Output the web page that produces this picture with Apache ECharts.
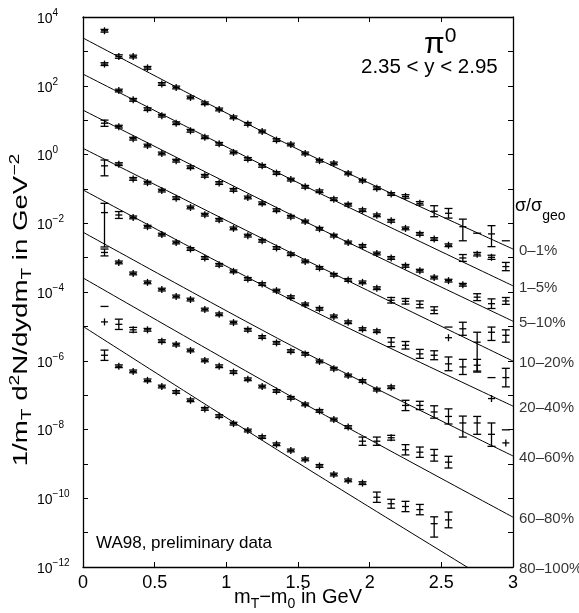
<!DOCTYPE html>
<html>
<head>
<meta charset="utf-8">
<script src="https://cdn.jsdelivr.net/npm/echarts@6/dist/echarts.min.js"></script>
<style>
    html, body { margin: 0; padding: 0; background: #fff; }
    #chart { width: 579px; height: 613px; }
</style>
</head>
<body>
<div id="chart"></div>
<script>
    // m_T - m_0 bin centres (GeV)
    const mt = [0.15, 0.25, 0.35, 0.45, 0.55, 0.65, 0.75, 0.85, 0.95, 1.05, 1.15, 1.25, 1.35, 1.45,
        1.55, 1.65, 1.75, 1.85, 1.95, 2.05, 2.15, 2.25, 2.35, 2.45, 2.55, 2.65, 2.75, 2.85, 2.95]

    // yields as log10 values, one array per centrality class
    const y0_1 = [3.60, 2.85, 2.85, 2.52, 2.05, 1.95, 1.66, 1.49, 1.31, 1.08, 0.89, 0.67, 0.42, 0.29,
        0.03, -0.18, -0.26, -0.55, -0.76, -0.98, -1.15, -1.22, -1.42, -1.65, -1.71, -2.10, null, -2.31, null]
    const y1_5 = [2.63, 1.86, 1.59, 1.32, 1.13, 0.91, 0.69, 0.50, 0.31, 0.06, -0.13, -0.33, -0.54, -0.73,
        -0.94, -1.07, -1.30, -1.46, -1.62, -1.77, -1.93, -2.15, -2.31, -2.46, -2.64, -3.01, -2.90, -2.99, -3.26]
    const y5_10 = [0.91, 0.81, 0.46, 0.26, 0.03, -0.18, -0.37, -0.62, -0.83, -1.03, -1.25, -1.42, -1.62, -1.81,
        -1.95, -2.16, -2.36, -2.56, -2.66, -2.88, -3.01, -3.24, -3.38, -3.58, -3.67, -3.79, -4.15, -4.34, -4.26]
    const y10_20 = [-0.33, -0.28, -0.71, -0.82, -1.05, -1.27, -1.54, -1.75, -1.90, -2.15, -2.36, -2.51, -2.72, -2.90,
        -3.11, -3.30, -3.50, -3.65, -3.72, -3.89, -4.24, -4.27, -4.36, -4.53, -5.33, -5.07, -5.46, -5.17, -5.26]
    const y20_40 = [-1.69, -1.76, -1.83, -2.10, -2.33, -2.56, -2.75, -3.01, -3.21, -3.40, -3.62, -3.77, -3.96, -4.15,
        -4.36, -4.49, -4.71, -4.88, -5.08, -5.14, -5.46, -5.55, -5.80, -5.84, -6.09, -6.18, -6.13, -7.10, -6.49]
    const y40_60 = [-2.85, -3.14, -3.46, -3.72, -3.93, -4.13, -4.22, -4.51, -4.65, -4.89, -5.10, -5.31, -5.48, -5.72,
        -5.80, -6.02, -6.23, -6.43, -6.59, -6.84, -6.77, -7.30, -7.30, -7.49, -7.62, -7.81, -7.81, -8.14, -8.39]
    const y60_80 = [-4.87, -4.94, -5.10, -5.10, -5.43, -5.53, -5.70, -5.99, -6.16, -6.33, -6.54, -6.75, -6.88, -7.08,
        -7.27, -7.46, -7.71, -7.93, -8.34, -8.34, -8.24, -8.59, -8.66, -8.75, -8.95, null, null, null, null]
    const y80_100 = [-5.84, -6.16, -6.31, -6.57, -6.75, -6.91, -7.15, -7.40, -7.61, -7.83, -8.03, -8.22, -8.43, -8.61,
        -8.87, -9.06, -9.31, -9.48, -9.56, -9.97, -10.16, -10.24, -10.33, -10.74, -10.63, null, null, null, null]

    // error bars in decades: number = symmetric, [down, up] otherwise, 0 = no bar
    const e0_1 = [0.04, 0.05, 0.04, 0.04, 0.04, 0.04, 0.04, 0.04, 0.04, 0.04, 0.04, 0.04, 0.04, 0.04,
        0.04, 0.04, 0.04, 0.04, 0.04, 0.04, 0.04, 0.05, 0.05, 0.16, 0.14, [0.41, 0.22], 0, [0.37, 0.24], 0]
    const e1_5 = [0.04, 0.04, 0.04, 0.04, 0.04, 0.04, 0.04, 0.04, 0.04, 0.04, 0.04, 0.04, 0.04, 0.04,
        0.04, 0.04, 0.04, 0.04, 0.04, 0.04, 0.04, 0.04, 0.04, 0.04, 0.04, 0.10, 0.05, 0.06, 0.12]
    const e5_10 = [0.09, 0.04, 0.04, 0.04, 0.04, 0.04, 0.04, 0.04, 0.04, 0.04, 0.04, 0.04, 0.04, 0.04,
        0.04, 0.04, 0.04, 0.04, 0.04, 0.04, 0.04, 0.04, 0.04, 0.04, 0.04, 0.04, 0.10, 0.14, 0.10]
    const e10_20 = [[0.29, 0.17], 0.04, 0.04, 0.04, 0.04, 0.04, 0.04, 0.04, 0.04, 0.04, 0.04, 0.04, 0.04, 0.04,
        0.04, 0.04, 0.04, 0.04, 0.04, 0.04, 0.08, 0.08, 0.10, 0.10, 0, 0.19, [0.87, 0.29], [0.24, 0.15], [0.20, 0.16]]
    const e20_40 = [[1.00, 0.27], 0.10, 0.04, 0.04, 0.04, 0.04, 0.04, 0.04, 0.04, 0.04, 0.04, 0.04, 0.04, 0.04,
        0.04, 0.04, 0.04, 0.04, 0.04, 0.04, 0.13, 0.11, 0.13, 0.13, 0.20, 0.22, 0.17, 0, 0.27]
    const e40_60 = [0.10, 0.04, 0.04, 0.04, 0.04, 0.04, 0.04, 0.04, 0.04, 0.04, 0.04, 0.04, 0.04, 0.04,
        0.04, 0.04, 0.04, 0.04, 0.04, 0.04, 0.04, 0.15, 0.12, 0.18, 0.22, [0.41, 0.20], [0.33, 0.19], [0.35, 0.33], 0]
    const e60_80 = [0, 0.15, 0.07, 0.04, 0.04, 0.04, 0.04, 0.04, 0.04, 0.04, 0.04, 0.04, 0.04, 0.04,
        0.04, 0.04, 0.04, 0.04, 0.12, 0.12, 0.07, 0.15, 0.15, 0.17, 0.17, null, null, null, null]
    const e80_100 = [0.15, 0.04, 0.04, 0.04, 0.04, 0.04, 0.04, 0.04, 0.04, 0.04, 0.04, 0.04, 0.04, 0.04,
        0.04, 0.04, 0.04, 0.04, 0.04, 0.15, 0.13, 0.15, 0.15, [0.39, 0.20], 0.23, null, null, null, null]

    // lone upper caps (log10)
    const capX = [2.75, 2.95, 2.55, 2.85, 2.95, 0.15]
    const capY = [-2.29, -2.51, -5.02, -6.49, -8.01, -4.42]

    // fitted curves, log10 at fitX
    const fitX = [0, 1.5, 3]
    const fit0_1 = [3.39, 0.15, -2.75]
    const fit1_5 = [2.34, -0.82, -3.82]
    const fit5_10 = [1.29, -1.85, -4.85]
    const fit10_20 = [0.18, -2.96, -6.01]
    const fit20_40 = [-1.03, -4.33, -7.32]
    const fit40_60 = [-2.26, -5.66, -8.77]
    const fit60_80 = [-3.59, -7.15, -10.55]
    const fit80_100 = [-5.00, -8.97, -12.82]

    const classes = ['0\u20131%', '1\u20135%', '5\u201310%', '10\u201320%', '20\u201340%', '40\u201360%', '60\u201380%', '80\u2013100%']
    const yields = [y0_1, y1_5, y5_10, y10_20, y20_40, y40_60, y60_80, y80_100]
    const errors = [e0_1, e1_5, e5_10, e10_20, e20_40, e40_60, e60_80, e80_100]
    const fits = [fit0_1, fit1_5, fit5_10, fit10_20, fit20_40, fit40_60, fit60_80, fit80_100]

    const font = 'Liberation Sans, Arial, sans-serif'
    const stroke = { stroke: '#000', lineWidth: 1.3 }

    function renderPoint(params, api) {
        const x = api.value(0), v = api.value(1), lo = api.value(2), hi = api.value(3)
        const p = api.coord([x, v])
        const top = api.coord([x, v + hi])[1]
        const bot = api.coord([x, v - lo])[1]
        const arm = 3.5, cap = 4
        const kids = [
            { type: 'line', shape: { x1: p[0] - arm, y1: p[1], x2: p[0] + arm, y2: p[1] }, style: stroke },
            { type: 'line', shape: { x1: p[0], y1: Math.min(top, p[1] - arm), x2: p[0], y2: Math.max(bot, p[1] + arm) }, style: stroke }
        ]
        if (hi > 0) kids.push({ type: 'line', shape: { x1: p[0] - cap, y1: top, x2: p[0] + cap, y2: top }, style: stroke })
        if (lo > 0) kids.push({ type: 'line', shape: { x1: p[0] - cap, y1: bot, x2: p[0] + cap, y2: bot }, style: stroke })
        return { type: 'group', children: kids }
    }

    function renderCap(params, api) {
        const p = api.coord([api.value(0), api.value(1)])
        return { type: 'line', shape: { x1: p[0] - 4, y1: p[1], x2: p[0] + 4, y2: p[1] }, style: stroke }
    }

    const series = []
    fits.forEach((f) => {
        series.push({
            type: 'line', data: fitX.map((x, i) => [x, f[i]]), symbol: 'none', smooth: 0.3,
            lineStyle: { color: '#000', width: 1 }, clip: true, silent: true, z: 2
        })
    })
    yields.forEach((ys, k) => {
        const data = []
        ys.forEach((v, i) => {
            if (v === null) return
            const e = errors[k][i]
            const lo = Array.isArray(e) ? e[0] : e
            const hi = Array.isArray(e) ? e[1] : e
            data.push([mt[i], v, lo, hi])
        })
        series.push({
            type: 'custom', renderItem: renderPoint, data: data,
            dimensions: ['x', 'y', 'lo', 'hi'], encode: { x: 0, y: 1 }, silent: true, z: 3
        })
    })
    series.push({
        type: 'custom', renderItem: renderCap, data: capX.map((x, i) => [x, capY[i]]),
        encode: { x: 0, y: 1 }, silent: true, z: 3
    })
    series.push({
        type: 'scatter', symbolSize: 0, clip: false, silent: true,
        data: classes.map((c, i) => ({ name: c, value: [3, Math.max(fits[i][2], -12)] })),
        label: {
            show: true, position: 'right', distance: 6, offset: [0, 2], formatter: '{b}',
            fontFamily: font, fontSize: 15, color: '#000'
        }
    })

    const axisBase = {
        axisLine: { show: true, onZero: false, lineStyle: { color: '#000', width: 1.3 } },
        axisTick: { show: true, inside: true, length: 5, lineStyle: { color: '#000', width: 1 } },
        splitLine: { show: false }
    }

    const option = {
        animation: false,
        backgroundColor: '#fff',
        grid: { left: 83, right: 66, top: 17, bottom: 46, containLabel: false, outerBoundsMode: 'none' },
        xAxis: [
            Object.assign({
                type: 'value', min: 0, max: 3, interval: 0.5, position: 'bottom',
                axisLabel: { fontFamily: font, fontSize: 18, color: '#000', margin: 7 },
                name: '{a|m}{b|T}{a|\u2212m}{b|0}{a| in GeV}', nameLocation: 'middle', nameGap: 20,
                nameMoveOverlap: false,
                nameTextStyle: {
                    color: '#000', fontFamily: font,
                    rich: {
                        a: { fontSize: 20, fontFamily: font, color: '#000', lineHeight: 24, verticalAlign: 'top' },
                        b: { fontSize: 14, fontFamily: font, color: '#000', lineHeight: 24, verticalAlign: 'bottom' }
                    }
                }
            }, axisBase),
            Object.assign({
                type: 'value', min: 0, max: 3, interval: 0.5, position: 'top',
                axisLabel: { show: false }
            }, axisBase)
        ],
        yAxis: [
            Object.assign({
                type: 'value', min: -12, max: 4, interval: 1, position: 'left',
                axisLabel: {
                    margin: 46, align: 'left', color: '#000',
                    formatter: (v) => v % 2 === 0 ? '{n|10}{e|' + (v < 0 ? '\u2212' + (-v) : v) + '}' : '',
                    rich: {
                        n: { fontSize: 14, fontFamily: font, color: '#000', lineHeight: 18, verticalAlign: 'bottom' },
                        e: { fontSize: 10, fontFamily: font, color: '#000', lineHeight: 18, verticalAlign: 'top' }
                    }
                }
            }, axisBase),
            Object.assign({
                type: 'value', min: -12, max: 4, interval: 1, position: 'right',
                axisLabel: { show: false }
            }, axisBase)
        ],
        graphic: [
            {
                type: 'text', x: 21, y: 310, rotation: Math.PI / 2, scaleX: 1.38,
                style: {
                    text: '{a|1/m}{b|T}{a| d}{c|2}{a|N/dydm}{b|T}{a| in GeV}{c|\u22122}',
                    align: 'center', verticalAlign: 'middle',
                    rich: {
                        a: { fontSize: 20, fontFamily: font, fill: '#000', lineHeight: 26, verticalAlign: 'middle' },
                        b: { fontSize: 14, fontFamily: font, fill: '#000', lineHeight: 26, verticalAlign: 'bottom' },
                        c: { fontSize: 14, fontFamily: font, fill: '#000', lineHeight: 26, verticalAlign: 'top' }
                    }
                }
            },
            {
                type: 'text', left: 424, top: 26,
                style: {
                    text: '{p|\u03c0}{s|0}',
                    rich: {
                        p: { fontSize: 30, fontFamily: font, fill: '#000', lineHeight: 34, verticalAlign: 'bottom' },
                        s: { fontSize: 21, fontFamily: font, fill: '#000', lineHeight: 34, verticalAlign: 'top' }
                    }
                }
            },
            {
                type: 'text', left: 361, top: 57,
                style: { text: '2.35 < y < 2.95', fontSize: 20.5, fontFamily: font, fill: '#000' }
            },
            {
                type: 'text', left: 515, top: 197,
                style: {
                    text: '{a|\u03c3/\u03c3}{b|geo}',
                    rich: {
                        a: { fontSize: 18, fontFamily: font, fill: '#000', lineHeight: 26, verticalAlign: 'top' },
                        b: { fontSize: 14, fontFamily: font, fill: '#000', lineHeight: 26, verticalAlign: 'bottom' }
                    }
                }
            },
            {
                type: 'text', left: 96, top: 535,
                style: { text: 'WA98, preliminary data', fontSize: 17, fontFamily: font, fill: '#000' }
            }
        ],
        series: series
    }

    const chartInstance = echarts.init(document.getElementById('chart'), null, { renderer: 'canvas' })
    chartInstance.setOption(option)
</script>
</body>
</html>
